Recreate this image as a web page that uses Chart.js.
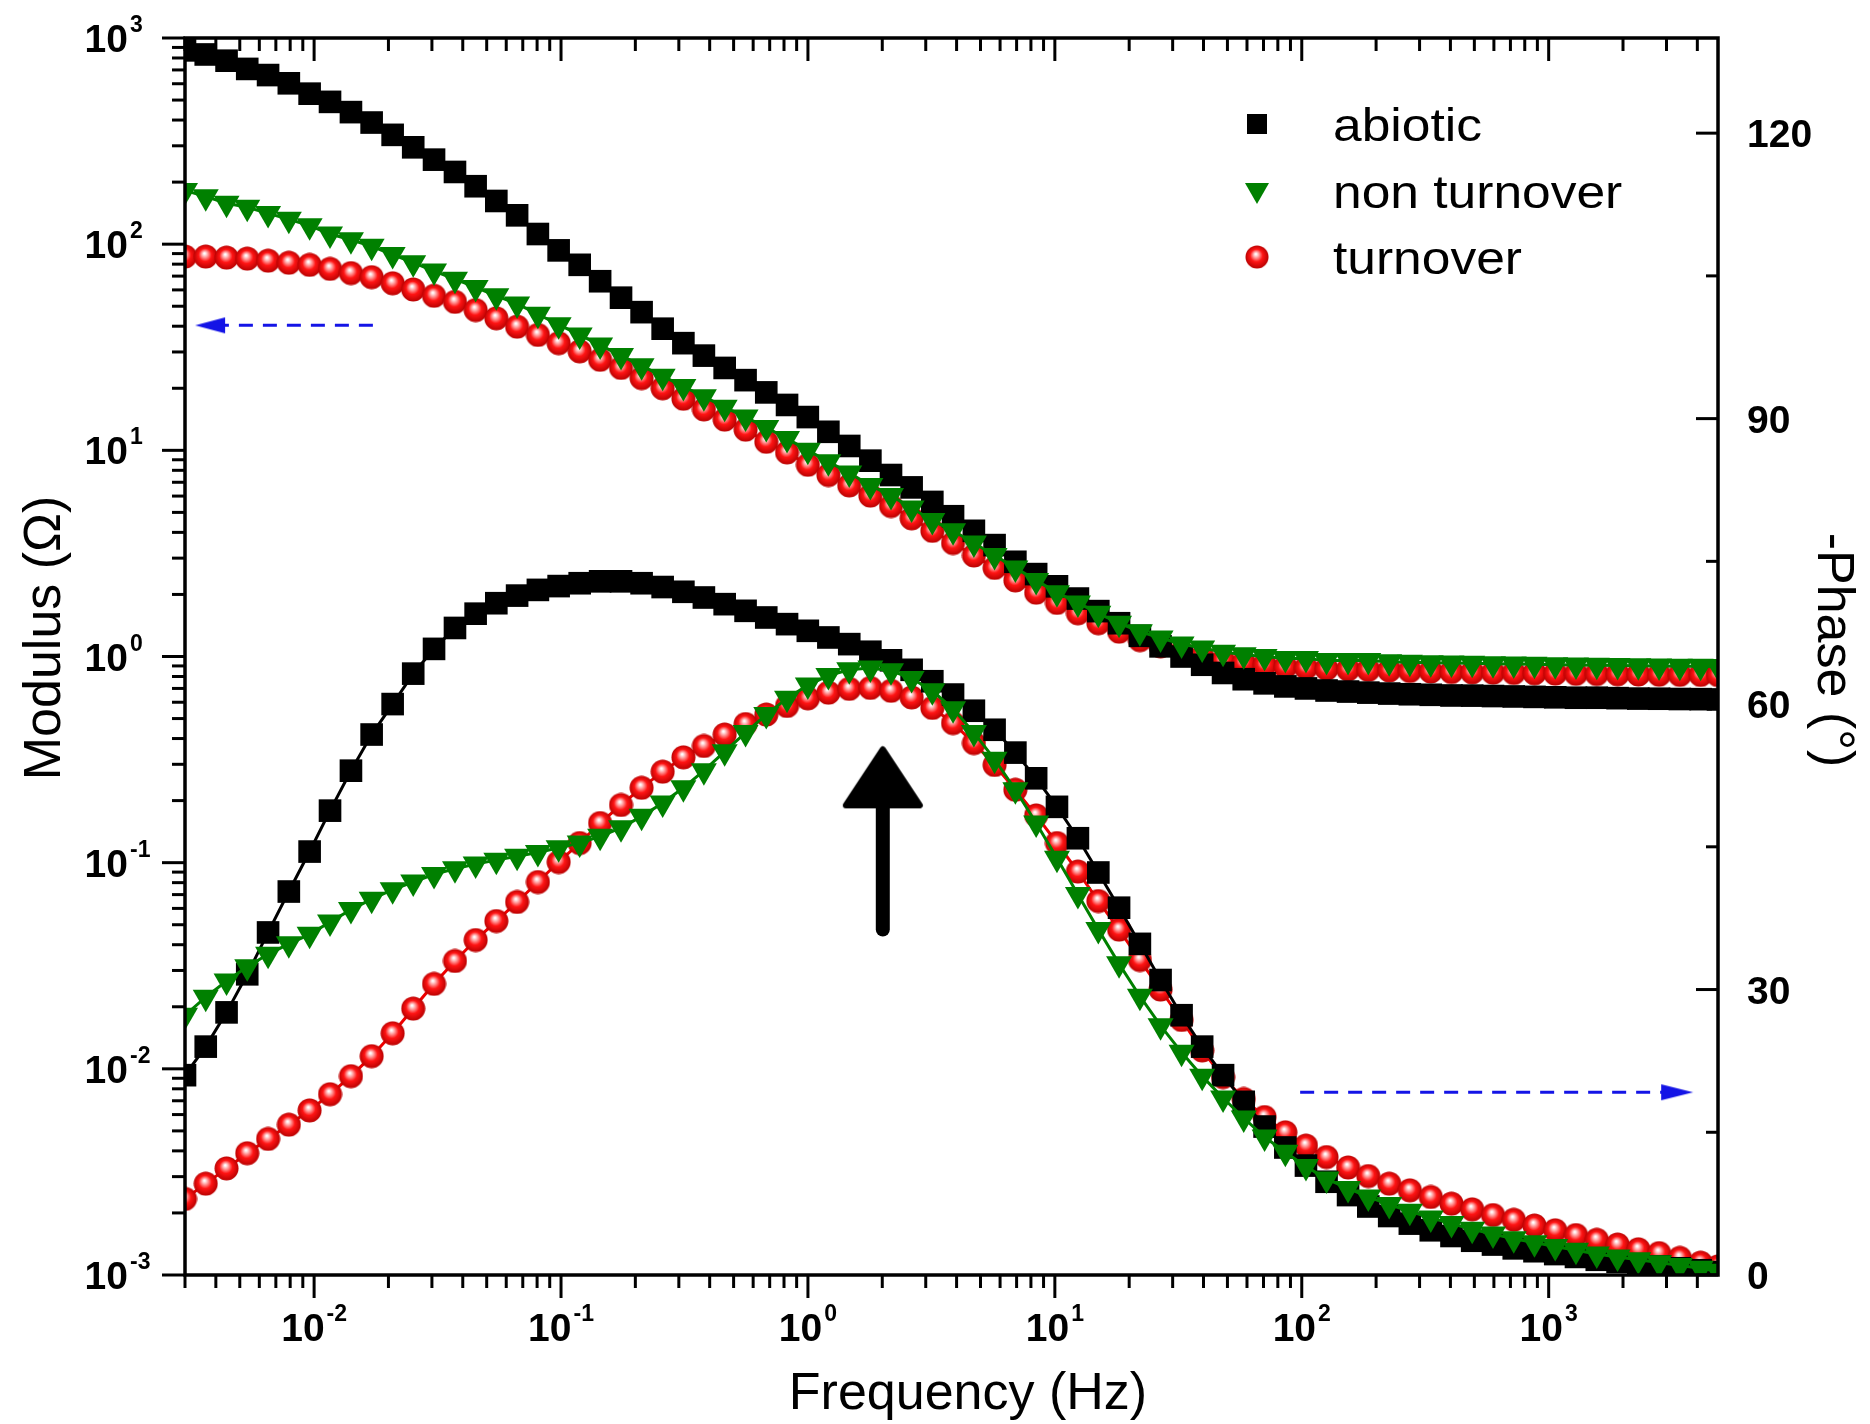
<!DOCTYPE html>
<html>
<head>
<meta charset="utf-8">
<script src="https://cdn.jsdelivr.net/npm/chart.js@4.4.1/dist/chart.umd.min.js"></script>
<style>
  html, body { margin: 0; padding: 0; background: #fff; }
</style>
</head>
<body>
<canvas id="chart" width="1870" height="1424"></canvas>
<script>
// frequency points (Hz)
const freq = [0.00300, 0.00364, 0.00442, 0.00536, 0.00651, 0.00790, 0.00959, 0.0116, 0.0141, 0.0171,
  0.0208, 0.0252, 0.0306, 0.0372, 0.0451, 0.0547, 0.0664, 0.0806, 0.0978, 0.119,
  0.144, 0.175, 0.212, 0.258, 0.313, 0.379, 0.460, 0.559, 0.678, 0.823,
  0.999, 1.21, 1.47, 1.79, 2.17, 2.63, 3.19, 3.87, 4.70, 5.70,
  6.92, 8.40, 10.2, 12.4, 15.0, 18.2, 22.1, 26.8, 32.6, 39.5,
  48.0, 58.2, 70.7, 85.8, 104, 126, 154, 186, 226, 274,
  333, 404, 490, 595, 722, 876, 1063, 1290, 1566, 1901,
  2307, 2800, 3398, 4124, 4850];

// modulus (Ohm)
const modAbiotic = [871, 832, 776, 708, 661, 603, 537, 490, 437, 389,
  339, 295, 257, 224, 191, 162, 138, 112, 93.3, 79.4,
  66.1, 55.0, 46.8, 38.9, 33.1, 28.8, 25.1, 21.9, 19.1, 16.6,
  14.5, 12.3, 10.5, 8.91, 7.59, 6.61, 5.62, 4.79, 4.07, 3.47,
  2.88, 2.51, 2.19, 1.91, 1.66, 1.45, 1.26, 1.12, 1.00, 0.912,
  0.832, 0.776, 0.741, 0.716, 0.700, 0.684, 0.676, 0.668, 0.661, 0.656,
  0.652, 0.647, 0.646, 0.643, 0.640, 0.637, 0.634, 0.631, 0.631, 0.628,
  0.625, 0.624, 0.622, 0.621, 0.619];
const modNonTurnover = [182, 170, 158, 151, 141, 132, 123, 112, 105, 97.7,
  89.1, 81.3, 74.1, 67.6, 61.7, 56.2, 51.3, 45.7, 40.7, 36.3,
  32.4, 28.8, 25.7, 22.9, 20.4, 18.2, 16.2, 14.5, 12.9, 11.4,
  10.0, 8.81, 7.76, 6.76, 6.03, 5.25, 4.57, 4.07, 3.55, 3.09,
  2.69, 2.34, 2.04, 1.82, 1.62, 1.45, 1.32, 1.23, 1.15, 1.10,
  1.05, 1.02, 1.00, 0.977, 0.977, 0.955, 0.955, 0.955, 0.944, 0.938,
  0.933, 0.930, 0.927, 0.923, 0.920, 0.916, 0.913, 0.910, 0.907, 0.904,
  0.902, 0.900, 0.898, 0.896, 0.894];
const modTurnover = [87.1, 87.1, 86.1, 85.1, 83.2, 81.3, 79.4, 75.9, 72.4, 69.2,
  64.6, 60.3, 56.2, 52.5, 47.9, 43.7, 39.8, 36.3, 33.1, 30.2,
  27.5, 25.1, 22.4, 20.0, 17.8, 15.8, 14.1, 12.6, 11.0, 9.77,
  8.51, 7.59, 6.76, 6.03, 5.37, 4.68, 4.07, 3.55, 3.09, 2.69,
  2.34, 2.04, 1.82, 1.62, 1.45, 1.32, 1.20, 1.12, 1.05, 1.00,
  0.955, 0.933, 0.912, 0.891, 0.881, 0.871, 0.866, 0.861, 0.856, 0.851,
  0.846, 0.841, 0.838, 0.835, 0.832, 0.829, 0.826, 0.824, 0.822, 0.820,
  0.818, 0.816, 0.815, 0.814, 0.813];

// -phase (deg)
const phAbiotic = [21.0, 24.0, 27.6, 31.6, 36.0, 40.3, 44.5, 48.8, 53.0, 56.8,
  60.0, 63.2, 65.8, 68.0, 69.5, 70.6, 71.4, 72.0, 72.4, 72.7,
  72.9, 72.9, 72.7, 72.3, 71.8, 71.2, 70.5, 69.8, 69.1, 68.4,
  67.7, 67.0, 66.3, 65.5, 64.6, 63.6, 62.4, 61.0, 59.3, 57.3,
  54.9, 52.2, 49.2, 45.9, 42.3, 38.6, 34.8, 31.0, 27.3, 24.0,
  21.0, 18.2, 15.6, 13.4, 11.5, 9.8, 8.4, 7.2, 6.2, 5.4,
  4.7, 4.1, 3.6, 3.2, 2.8, 2.5, 2.2, 1.9, 1.6, 1.4,
  1.1, 0.9, 0.7, 0.5, 0.3];
const phNonTurnover = [27.3, 29.2, 30.9, 32.4, 33.7, 34.8, 35.8, 37.1, 38.4, 39.5,
  40.5, 41.3, 42.1, 42.7, 43.2, 43.6, 44.0, 44.4, 44.9, 45.4,
  46.1, 47.0, 48.2, 49.6, 51.2, 53.0, 55.0, 57.0, 58.9, 60.6,
  62.0, 63.0, 63.6, 63.8, 63.5, 62.7, 61.4, 59.5, 57.0, 54.2,
  51.0, 47.5, 43.8, 40.0, 36.3, 32.7, 29.3, 26.2, 23.4, 20.9,
  18.6, 16.5, 14.5, 12.9, 11.4, 10.1, 9.1, 8.2, 7.4, 6.7,
  6.0, 5.4, 4.8, 4.3, 3.8, 3.4, 3.0, 2.6, 2.2, 1.9,
  1.6, 1.3, 1.0, 0.7, 0.4];
const phTurnover = [8.0, 9.6, 11.2, 12.8, 14.3, 15.8, 17.3, 19.0, 20.9, 23.0,
  25.4, 28.0, 30.6, 33.0, 35.2, 37.2, 39.2, 41.3, 43.4, 45.4,
  47.5, 49.4, 51.2, 52.9, 54.4, 55.6, 56.8, 57.9, 58.9, 59.8,
  60.6, 61.2, 61.6, 61.7, 61.4, 60.7, 59.6, 58.0, 55.9, 53.6,
  51.0, 48.3, 45.4, 42.4, 39.3, 36.3, 33.1, 30.0, 26.8, 23.6,
  20.8, 18.5, 16.6, 15.0, 13.6, 12.4, 11.3, 10.4, 9.6, 8.9,
  8.2, 7.5, 6.9, 6.3, 5.8, 5.2, 4.7, 4.2, 3.7, 3.2,
  2.7, 2.3, 1.8, 1.3, 0.9];

const seriesNames = ['abiotic', 'non turnover', 'turnover'];

// axis ticks
const xTickExp = [-2, -1, 0, 1, 2, 3];
const yTickExp = [-3, -2, -1, 0, 1, 2, 3];
const phaseTicks = [0, 30, 60, 90, 120];
const phaseMinor = [15, 45, 75, 105];

// annotation arrows, in data units
const leftArrowX = [0.0173, 0.00379], leftArrowY = 40.4;
const rightArrowX = [98.5, 3314], rightArrowY = 19.2;
const peakArrowX = 2.01, peakArrowY = [36.3, 52.3];

const FONT = '"Liberation Sans", Arial, Helvetica, sans-serif';
const GREEN = '#008000', RED = '#ee0000', BLUE = '#1414e6';

function makeBall(d) {
  const c = document.createElement('canvas');
  c.width = d; c.height = d;
  const g = c.getContext('2d'), r = d / 2;
  const grad = g.createRadialGradient(r * 0.9, r * 0.75, r * 0.05, r, r, r);
  grad.addColorStop(0, '#ffffff');
  grad.addColorStop(0.22, '#ff9a9a');
  grad.addColorStop(0.5, '#ff1414');
  grad.addColorStop(1, '#b40000');
  g.fillStyle = grad;
  g.beginPath(); g.arc(r, r, r - 0.5, 0, Math.PI * 2); g.fill();
  return c;
}

function makeHead(w, h, dir, color, lw) {
  const c = document.createElement('canvas');
  c.width = w; c.height = h;
  const g = c.getContext('2d'), p = lw / 2 + 1;
  g.fillStyle = color; g.strokeStyle = color; g.lineJoin = 'round'; g.lineWidth = lw;
  g.beginPath();
  if (dir === 'right') { g.moveTo(p, p); g.lineTo(w - p, h / 2); g.lineTo(p, h - p); }
  else if (dir === 'left') { g.moveTo(w - p, p); g.lineTo(p, h / 2); g.lineTo(w - p, h - p); }
  else { g.moveTo(p, h - p); g.lineTo(w / 2, p); g.lineTo(w - p, h - p); }
  g.closePath(); g.fill();
  if (lw) g.stroke();
  return c;
}

const ball = makeBall(25);
const headLeft = makeHead(32, 18, 'left', BLUE, 0);
const headRight = makeHead(34, 18, 'right', BLUE, 0);
const headUp = makeHead(82, 64, 'up', '#000', 6);

const pts = (ys) => freq.map((f, i) => ({ x: f, y: ys[i] }));

function series(label, ys, axis, color, style, radius, rot) {
  return {
    label: label,
    data: pts(ys),
    yAxisID: axis,
    borderColor: color,
    backgroundColor: color,
    borderWidth: 3,
    pointStyle: style,
    pointRadius: radius,
    pointRotation: rot || 0,
    pointBorderWidth: 0,
    pointBackgroundColor: color,
    tension: 0
  };
}

function drawPow(ctx, exp, x, y, align) {
  const big = 'bold 39px ' + FONT, small = 'bold 23px ' + FONT;
  ctx.font = big;
  const wb = ctx.measureText('10').width;
  ctx.font = small;
  const es = String(exp);
  const we = ctx.measureText(es).width;
  const x0 = align === 'center' ? x - (wb + 2 + we) / 2 : x - wb;
  ctx.textAlign = 'left';
  ctx.textBaseline = 'alphabetic';
  ctx.font = big;
  ctx.fillText('10', x0, y + 14);
  ctx.font = small;
  ctx.fillText(es, x0 + wb + 2, y - 6);
}

const framePlugin = {
  id: 'frame',
  afterDatasetsDraw(chart) {
    const ctx = chart.ctx, a = chart.chartArea;
    const sx = chart.scales.x, sy = chart.scales.yMod, sp = chart.scales.yPh;
    const seg = (x1, y1, x2, y2) => { ctx.beginPath(); ctx.moveTo(x1, y1); ctx.lineTo(x2, y2); ctx.stroke(); };
    ctx.save();
    ctx.strokeStyle = '#000';
    ctx.fillStyle = '#000';
    ctx.lineWidth = 3.5;
    ctx.strokeRect(a.left, a.top, a.right - a.left, a.bottom - a.top);

    // log ticks: bottom (out), top (in), left (out)
    ctx.lineWidth = 3;
    for (let e = -3; e <= 3; e++) {
      for (let m = 1; m <= 9; m++) {
        const v = m * Math.pow(10, e);
        const len = m === 1 ? 23 : 13;
        if (v >= sx.min && v <= sx.max) {
          const px = sx.getPixelForValue(v);
          seg(px, a.bottom, px, a.bottom + len);
          seg(px, a.top, px, a.top + len);
        }
        if (v >= sy.min && v <= sy.max) {
          const py = sy.getPixelForValue(v);
          seg(a.left - len, py, a.left, py);
        }
      }
    }
    // phase ticks, pointing into the plot
    phaseTicks.forEach(v => { const py = sp.getPixelForValue(v); seg(a.right - 22, py, a.right, py); });
    phaseMinor.forEach(v => { const py = sp.getPixelForValue(v); seg(a.right - 12, py, a.right, py); });

    // tick labels
    xTickExp.forEach(e => drawPow(ctx, e, sx.getPixelForValue(Math.pow(10, e)), 1327, 'center'));
    yTickExp.forEach(e => drawPow(ctx, e, a.left - 57, sy.getPixelForValue(Math.pow(10, e)), 'left'));
    ctx.font = 'bold 39px ' + FONT;
    ctx.textAlign = 'left';
    ctx.textBaseline = 'alphabetic';
    phaseTicks.forEach(v => ctx.fillText(String(v), a.right + 29, sp.getPixelForValue(v) + 14));

    // axis titles
    ctx.font = '52px ' + FONT;
    ctx.textAlign = 'center';
    ctx.fillText('Frequency (Hz)', 968, 1409);
    ctx.save();
    ctx.translate(60, 638);
    ctx.rotate(-Math.PI / 2);
    ctx.fillText('Modulus (\u03A9)', 0, 0);
    ctx.restore();
    ctx.save();
    ctx.translate(1818, 650);
    ctx.rotate(Math.PI / 2);
    ctx.fillText('-Phase (\u00B0)', 0, 0);
    ctx.restore();

    // legend
    const mx = a.right - 461, tx = a.right - 385;
    const rows = [a.top + 86, a.top + 153, a.top + 219];
    ctx.fillStyle = '#000';
    ctx.fillRect(mx - 10, rows[0] - 10, 20, 20);
    ctx.fillStyle = GREEN;
    ctx.beginPath();
    ctx.moveTo(mx - 12, rows[1] - 8); ctx.lineTo(mx + 12, rows[1] - 8); ctx.lineTo(mx, rows[1] + 13);
    ctx.closePath(); ctx.fill();
    ctx.drawImage(ball, mx - 12, rows[2] - 12, 24, 24);
    ctx.fillStyle = '#000';
    ctx.font = '46px ' + FONT;
    ctx.textAlign = 'left';
    ctx.textBaseline = 'alphabetic';
    seriesNames.forEach((n, i) => {
      ctx.save();
      ctx.translate(tx, rows[i] + 17);
      ctx.scale(1.12, 1);
      ctx.fillText(n, 0, 0);
      ctx.restore();
    });
    ctx.restore();
  }
};

const datasets = [
  {
    label: 'arrow left', data: leftArrowX.map(x => ({ x: x, y: leftArrowY })), yAxisID: 'yMod',
    borderColor: BLUE, borderWidth: 3, borderDash: [14, 10],
    pointStyle: headLeft, pointRadius: [0, 5], pointBorderWidth: 0
  },
  {
    label: 'arrow right', data: rightArrowX.map(x => ({ x: x, y: rightArrowY })), yAxisID: 'yPh',
    borderColor: BLUE, borderWidth: 3, borderDash: [14, 10],
    pointStyle: headRight, pointRadius: [0, 5], pointBorderWidth: 0
  },
  {
    label: 'peak arrow', data: peakArrowY.map(y => ({ x: peakArrowX, y: y })), yAxisID: 'yPh',
    borderColor: '#000', borderWidth: 14, borderCapStyle: 'round',
    pointStyle: headUp, pointRadius: [0, 5], pointBorderWidth: 0
  },
  series(seriesNames[1], phNonTurnover, 'yPh', GREEN, 'triangle', 15, 180),
  series(seriesNames[0], phAbiotic, 'yPh', '#000', 'rect', 16),
  series(seriesNames[2], phTurnover, 'yPh', RED, ball, 12),
  series(seriesNames[1], modNonTurnover, 'yMod', GREEN, 'triangle', 15, 180),
  series(seriesNames[0], modAbiotic, 'yMod', '#000', 'rect', 16),
  series(seriesNames[2], modTurnover, 'yMod', RED, ball, 12)
];

new Chart(document.getElementById('chart'), {
  type: 'line',
  data: { datasets: datasets },
  options: {
    responsive: false,
    devicePixelRatio: 1,
    animation: false,
    layout: { padding: { left: 185, right: 152, top: 38, bottom: 149 } },
    scales: {
      x: { type: 'logarithmic', min: 0.003, max: 4850, display: false },
      yMod: { type: 'logarithmic', position: 'left', min: 0.001, max: 1000, display: false },
      yPh: { type: 'linear', position: 'right', min: 0, max: 130, display: false }
    },
    plugins: {
      legend: { display: false },
      tooltip: { enabled: false }
    }
  },
  plugins: [framePlugin]
});
</script>
</body>
</html>
